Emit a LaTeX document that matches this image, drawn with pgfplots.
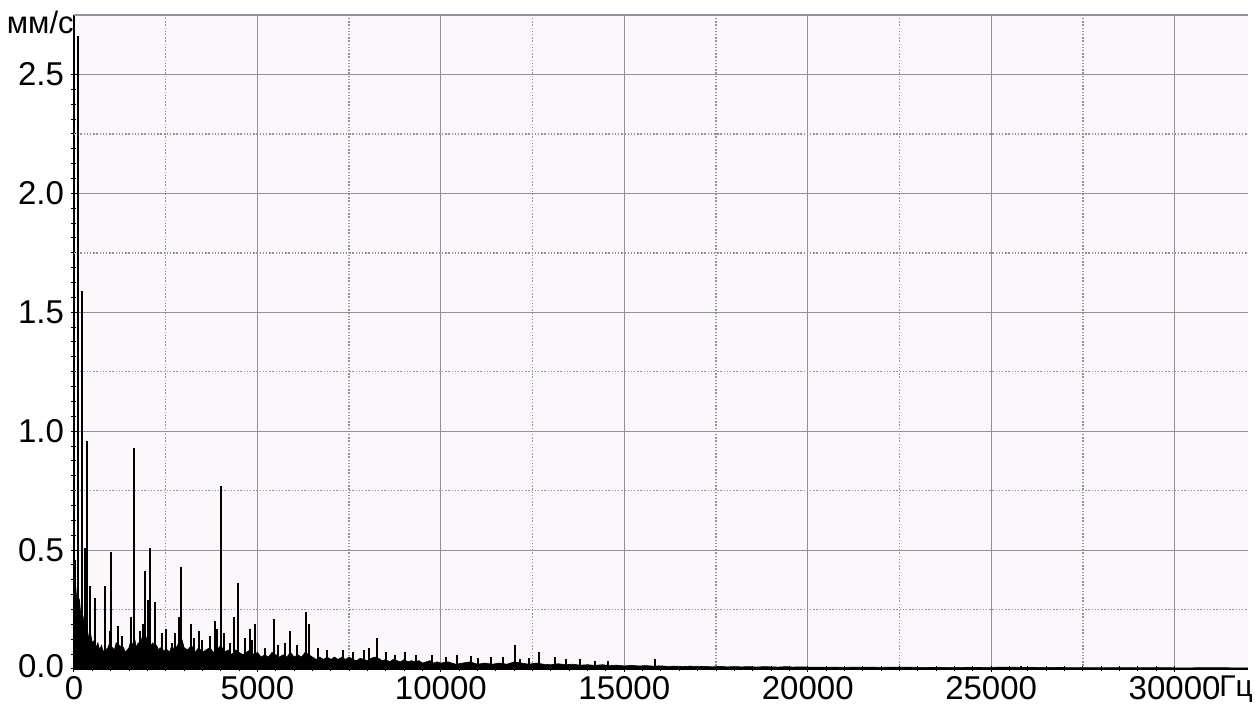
\documentclass[border=0pt]{standalone}
\usepackage{fontspec}
\setmainfont{Liberation Sans}
\usepackage{pgfplots}
\pgfplotsset{compat=1.18}
\definecolor{gridc}{RGB}{145,145,155}
\definecolor{paper}{RGB}{251,247,251}
\begin{document}
\begin{tikzpicture}
\begin{axis}[
 name=ax,
 at={(0,0)}, anchor=south west,
 scale only axis, width=587pt, height=327pt,
 xmin=0, xmax=32000, ymin=0, ymax=2.75,
 axis x line=bottom, axis y line=left,
 axis line style={-, black, line width=1pt},
 xtick={0,5000,10000,15000,20000,25000,30000},
 xticklabels={0,5000,10000,15000,20000,25000,30000},
 ytick={0,0.5,1,1.5,2,2.5},
 yticklabels={\raisebox{3.5pt}{0.0},0.5,1.0,1.5,2.0,2.5},
 minor x tick num=9, minor y tick num=7,
 tick style={black, line width=0.5pt},
 major tick length=3pt, minor tick length=2.5pt,
 tick align=center,
 ticklabel style={font=\fontsize{16.5}{18}\selectfont},
 xticklabel style={anchor=base, yshift=-14pt},
 grid=major,
 major grid style={gridc, line width=0.55pt},
 extra x ticks={2500,7500,12500,17500,22500,27500},
 extra x tick labels={},
 extra x tick style={grid=major, major grid style={gridc, dash pattern=on 0.7pt off 0.9pt, line width=0.7pt}, major tick length=0pt},
 extra y ticks={0.25,0.75,1.25,1.75,2.25},
 extra y tick labels={},
 extra y tick style={grid=major, major grid style={gridc, dash pattern=on 0.7pt off 0.9pt, line width=0.7pt}, major tick length=0pt},
 axis background/.style={fill=paper},
]
% noise floor (upper envelope of the dense region)
\addplot[fill=black, draw=black, line width=0.3pt] coordinates {
(0,0.30)(50,0.34)(100,0.25)(150,0.29)(200,0.20)(250,0.22)(300,0.16)(350,0.18)(400,0.13)(450,0.15)
(500,0.11)(550,0.12)(600,0.09)(650,0.11)(700,0.08)(750,0.10)(800,0.07)(850,0.09)(900,0.08)(950,0.10)
(1000,0.07)(1050,0.09)(1100,0.08)(1150,0.11)(1200,0.09)(1250,0.10)(1300,0.08)(1350,0.09)(1400,0.07)(1450,0.08)
(1500,0.09)(1550,0.12)(1600,0.10)(1650,0.13)(1700,0.09)(1750,0.11)(1800,0.10)(1850,0.13)(1900,0.11)(1950,0.14)
(2000,0.12)(2050,0.13)(2100,0.10)(2150,0.11)(2200,0.09)(2250,0.10)(2300,0.08)(2350,0.09)(2400,0.07)(2450,0.08)
(2500,0.07)(2550,0.08)(2600,0.07)(2650,0.09)(2700,0.08)(2750,0.10)(2800,0.09)(2850,0.11)(2900,0.10)(2950,0.12)
(3000,0.09)(3100,0.08)(3200,0.10)(3300,0.07)(3400,0.09)(3500,0.07)(3600,0.08)(3700,0.09)(3800,0.07)(3900,0.08)
(4000,0.10)(4100,0.07)(4200,0.08)(4300,0.06)(4400,0.08)(4500,0.07)(4600,0.06)(4700,0.07)(4800,0.08)(4900,0.06)
(5000,0.07)(5100,0.05)(5200,0.06)(5300,0.05)(5400,0.07)(5500,0.06)(5600,0.05)(5700,0.06)(5800,0.05)(5900,0.07)
(6000,0.05)(6100,0.06)(6200,0.05)(6300,0.07)(6400,0.06)(6500,0.05)(6600,0.04)(6700,0.05)(6800,0.04)(6900,0.05)
(7000,0.04)(7100,0.05)(7200,0.04)(7300,0.05)(7400,0.04)(7500,0.05)(7600,0.04)(7700,0.035)(7800,0.045)(7900,0.04)
(8000,0.035)(8100,0.045)(8200,0.05)(8300,0.045)(8400,0.035)(8500,0.04)(8600,0.03)(8700,0.04)(8800,0.035)(8900,0.03)
(9000,0.04)(9100,0.03)(9200,0.035)(9300,0.03)(9400,0.035)(9500,0.025)(9600,0.03)(9700,0.035)(9800,0.025)(9900,0.03)
(10000,0.025)(10200,0.03)(10400,0.02)(10600,0.025)(10800,0.03)(11000,0.02)(11200,0.025)(11400,0.02)(11600,0.025)(11800,0.02)
(12000,0.03)(12200,0.025)(12400,0.02)(12600,0.025)(12800,0.02)(13000,0.018)(13200,0.022)(13400,0.018)(13600,0.02)(13800,0.016)
(14000,0.018)(14200,0.015)(14400,0.018)(14600,0.014)(14800,0.016)(15000,0.013)(15200,0.015)(15400,0.013)(15600,0.014)(15800,0.012)
(16000,0.013)(16200,0.011)(16400,0.012)(16600,0.010)(16800,0.012)(17000,0.010)(17200,0.011)(17400,0.009)(17600,0.011)(17800,0.009)
(18000,0.010)(18200,0.009)(18400,0.010)(18600,0.008)(18800,0.010)(19000,0.009)(19200,0.008)(19400,0.010)(19600,0.008)(19800,0.009)
(20000,0.008)(20500,0.008)(21000,0.007)(21500,0.008)(22000,0.007)(22500,0.008)(23000,0.007)(23500,0.006)(24000,0.007)(24500,0.006)
(25000,0.007)(25500,0.008)(26000,0.006)(26500,0.007)(27000,0.006)(27500,0.006)(28000,0.005)(28500,0.006)(29000,0.005)(29500,0.006)
(30000,0.005)(30500,0.005)(31000,0.006)(31500,0.005)(32000,0.005)
} \closedcycle;
% discrete spectral lines
\addplot[ycomb, black, line width=1pt] coordinates {
(117,2.66)(210,1.59)(40,0.46)(290,0.51)(354,0.96)(427,0.35)(564,0.30)(845,0.35)(1009,0.49)(970,0.16)
(1200,0.18)(1300,0.14)(1560,0.22)(1627,0.93)(1800,0.16)(1880,0.19)(1935,0.41)(2010,0.29)(2072,0.51)(2208,0.28)
(2400,0.15)(2500,0.17)(2680,0.11)(2750,0.15)(2850,0.22)(2926,0.43)(3180,0.19)(3270,0.13)(3400,0.16)(3500,0.12)
(3700,0.14)(3840,0.20)(3900,0.17)(3999,0.77)(4100,0.15)(4240,0.11)(4350,0.22)(4471,0.36)(4650,0.13)(4800,0.17)
(4850,0.12)(4940,0.19)(5200,0.09)(5460,0.21)(5550,0.10)(5750,0.11)(5900,0.16)(6080,0.10)(6316,0.24)(6400,0.19)
(6650,0.09)(6900,0.08)(7320,0.08)(7600,0.07)(7900,0.08)(8050,0.09)(8260,0.13)(8500,0.07)(8750,0.06)(9010,0.07)
(9320,0.06)(9760,0.06)(10150,0.05)(10450,0.06)(10820,0.055)(11000,0.045)(11370,0.05)(11700,0.05)(12020,0.10)(12150,0.04)
(12400,0.045)(12680,0.07)(13100,0.05)(13400,0.04)(13800,0.04)(14200,0.035)(14560,0.035)(15830,0.04)(25800,0.012)
};
\draw[gridc, line width=0.8pt] (rel axis cs:0,1) -- (rel axis cs:1,1);
\end{axis}
\node[anchor=base east, inner sep=0pt, yshift=-9.5pt, font=\fontsize{15.5}{18}\selectfont] at (ax.north west) {мм/с};
\node[anchor=base west, inner sep=0pt, xshift=-14.5pt, yshift=-14pt, font=\fontsize{15}{17}\selectfont] at (ax.south east) {Гц};
\pgfresetboundingbox
\useasboundingbox (-37pt,-18pt) rectangle (590.5pt,334.5pt);
\end{tikzpicture}
\end{document}
